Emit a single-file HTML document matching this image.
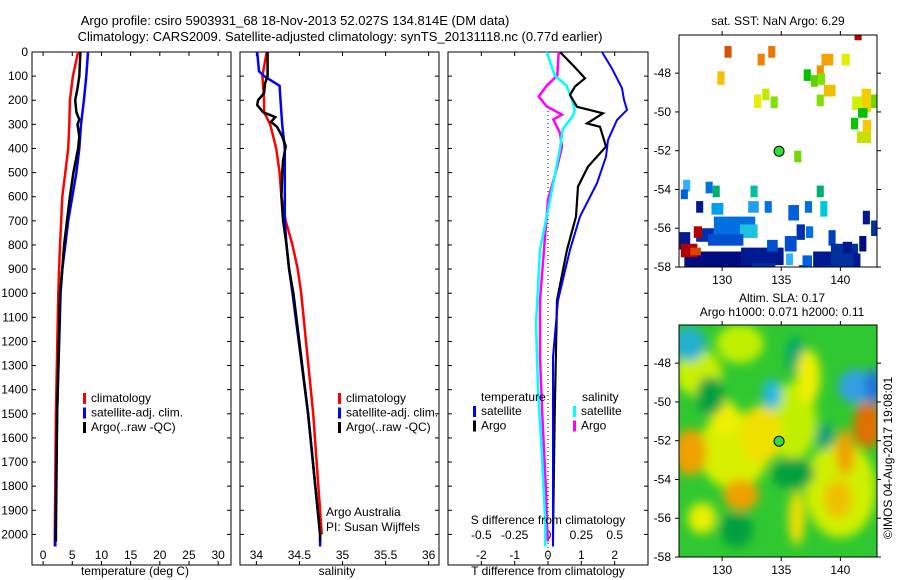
<!DOCTYPE html>
<html><head><meta charset="utf-8"><style>
body{margin:0;background:#fff}
svg{display:block;font-family:"Liberation Sans",sans-serif;font-size:12px}
</style></head><body>
<svg id="c" width="900" height="580" viewBox="0 0 900 580"></svg>
<script>
const depthTicks=[0,100,200,300,400,500,600,700,800,900,1000,1100,1200,1300,1400,1500,1600,1700,1800,1900,2000];
const tempTicks=[0,5,10,15,20,25,30];
const salTicks=[34,34.5,35,35.5,36];
const tdTicks=[-2,-1,0,1,2];
const sdTicks=[-0.5,-0.25,0,0.25,0.5];
const tempClim=[[0,6.0],[100,5.1],[200,4.6],[300,4.5],[400,4.3],[500,3.8],[600,3.3],[700,3.1],[800,2.9],[900,2.75],[1000,2.6],[1500,2.2],[2000,2.0],[2050,2.0]];
const tempSat=[[0,7.7],[100,7.4],[200,7.0],[300,6.5],[400,6.2],[500,5.7],[600,5.0],[700,4.3],[800,3.8],[900,3.3],[1000,3.0],[1500,2.4],[2000,2.1],[2050,2.1]];
const tempArgo=[[0,6.4],[100,6.2],[150,5.9],[200,5.5],[250,5.7],[280,6.2],[300,5.9],[350,6.2],[400,6.0],[500,5.2],[600,4.6],[700,4.1],[800,3.6],[900,3.3],[1000,2.9],[1500,2.4],[2000,2.2],[2030,2.2]];
const salClim=[[0,34.12],[100,34.07],[200,34.09],[250,34.09],[300,34.16],[400,34.23],[500,34.27],[600,34.29],[700,34.34],[800,34.42],[900,34.48],[1000,34.52],[1500,34.66],[2000,34.76]];
const salSat=[[0,34.01],[80,34.03],[100,34.09],[140,34.27],[200,34.28],[300,34.3],[400,34.33],[500,34.33],[600,34.33],[700,34.33],[800,34.35],[900,34.38],[1000,34.42],[1500,34.6],[2000,34.74],[2050,34.74]];
const salArgo=[[0,34.13],[100,34.13],[130,34.1],[170,34.09],[200,34.02],[220,34.01],[250,34.08],[270,34.22],[290,34.17],[310,34.24],[350,34.3],[390,34.34],[450,34.31],[500,34.3],[600,34.29],[700,34.31],[800,34.35],[900,34.38],[1000,34.43],[1500,34.6],[2000,34.74],[2030,34.74]];
const tdArgo=[[0,0.36],[55,0.75],[109,1.11],[143,0.81],[178,0.66],[227,0.87],[254,1.65],[296,1.17],[310,1.56],[392,1.74],[475,1.2],[558,0.9],[682,0.84],[820,0.57],[1030,0.27],[1500,0.2],[2000,0.15],[2030,0.15]];
const tdSat=[[0,1.62],[69,1.92],[150,2.22],[198,2.28],[240,2.37],[282,2.07],[365,1.8],[434,1.74],[544,1.47],[682,0.96],[820,0.66],[1030,0.3],[1264,0.15],[1540,0.15],[2050,0.15]];
const sdSat=[[0,-0.01],[97,0.05],[140,0.14],[198,0.18],[240,0.2],[262,0.19],[320,0.11],[400,0.09],[544,0.04],[682,-0.01],[820,-0.06],[1030,-0.08],[1126,-0.09],[1402,-0.075],[1678,-0.045],[1955,-0.02],[2050,-0.02]];
const sdArgo=[[0,0.08],[97,0.07],[140,-0.01],[184,-0.07],[226,-0.01],[260,0.105],[280,0.04],[336,0.09],[392,0.105],[475,0.07],[613,0],[751,-0.02],[1030,-0.06],[1264,-0.06],[1540,-0.04],[1816,-0.015],[1955,-0.008],[2030,0]];
const lonTicks=[130,135,140];
const latTicks=[-48,-50,-52,-54,-56,-58];
const sstCells=[[130.2,-46.6,0.6,0.6,'#d85000'],[133,-47,0.6,0.6,'#f08000'],[133.9,-46.6,0.6,0.6,'#e87800'],[141.2,-45.9,0.6,0.4,'#b00000'],
[129.6,-47.9,0.6,0.7,'#f8c000'],[138,-47.6,0.6,0.6,'#f09000'],[138.4,-47,1,0.6,'#f8a000'],[140.1,-47,0.7,0.6,'#e0f000'],
[136.9,-47.8,0.6,0.6,'#00c000'],[137.5,-48.1,0.6,0.6,'#60d000'],[138.1,-48.0,0.6,0.6,'#80e000'],[138.6,-48.6,1.0,0.6,'#f0c000'],[138,-49.1,0.6,0.6,'#80e000'],
[132.7,-49.1,0.6,0.7,'#e8f000'],[133.4,-48.8,0.6,0.6,'#c0e800'],[134.1,-49.2,0.6,0.6,'#80e000'],
[141,-49.2,0.8,0.7,'#d0f000'],[141.8,-48.8,0.8,1.2,'#f0d000'],[142.6,-49.1,0.5,0.7,'#70d800'],[141.5,-49.8,0.8,0.5,'#00c000'],
[140.9,-50.3,0.6,0.6,'#00c800'],[141.9,-50.4,0.7,0.6,'#f8c800'],[141.4,-51,1.2,0.6,'#c8e000'],[136.1,-52,0.6,0.6,'#70d800'],
[126.7,-53.5,0.6,0.6,'#30b0ff'],[126.5,-54,0.6,0.5,'#0060d8'],[128.6,-53.6,0.6,0.6,'#0070e0'],[129.2,-53.8,0.6,0.6,'#00b070'],[132.4,-53.8,0.6,0.6,'#00c0a0'],
[127.8,-54.6,0.6,0.6,'#001890'],[129.1,-54.7,1.0,0.6,'#00a0f0'],[132.2,-54.6,0.9,0.6,'#20a0f0'],[133.6,-54.6,0.6,0.6,'#0070e0'],[138,-53.8,0.6,0.6,'#00b070'],[138.3,-54.6,0.6,0.8,'#00c8d8'],
[129.3,-55.4,3.5,0.9,'#0070e0'],[131.5,-55.8,1.5,0.7,'#20c0e0'],[135.6,-54.8,0.9,0.8,'#0060e0'],[137,-54.6,0.6,0.6,'#0070e0'],[141.9,-55.1,0.6,0.7,'#001890'],[142.6,-55.6,0.6,0.8,'#0030a0'],
[126.4,-56.2,0.9,0.9,'#001890'],[127.8,-56.0,1.5,0.7,'#0030b0'],[127.6,-55.9,0.7,0.6,'#b00000'],[128.8,-56.3,3.0,0.6,'#0050d0'],[136.3,-55.8,0.7,0.8,'#0030b0'],[137.1,-55.9,0.6,0.6,'#0070e0'],[139,-56.1,0.6,0.8,'#0040c0'],
[126.8,-57.2,5.8,1.0,'#000c80'],[126.5,-56.8,1.4,0.7,'#b00000'],[127.3,-57.0,0.9,0.4,'#e04000'],[131.6,-57.0,3.6,0.9,'#001890'],[133.8,-56.6,0.9,0.6,'#0050d0'],[135.3,-56.4,1.0,0.8,'#0050d0'],[135.4,-57.3,0.6,0.6,'#30b0ff'],
[136.8,-57.4,0.8,0.8,'#0060e0'],[137.7,-57.2,1.7,1.0,'#001890'],[139.2,-56.8,2.3,1.4,'#0030a0'],[140.2,-56.7,0.8,0.6,'#001890'],[141.6,-56.4,0.6,0.8,'#000c80'],[141.1,-57.3,0.6,0.9,'#001890'],
[127.6,-57.9,2.2,0.7,'#000c80'],[130.5,-57.9,1.5,0.7,'#000c80'],[132.6,-57.8,1.9,0.7,'#0030a0'],[134.5,-58.0,1.8,0.7,'#001890'],[136.5,-57.9,0.7,0.6,'#0050d0'],[138.3,-57.9,2.2,0.7,'#0030a0'],[140.4,-58.1,0.8,0.6,'#000c80']];
const slaBlobs=[[127.2,-47,1.4,0.9,'#20b0d0'],[136.2,-47.6,0.8,1.0,'#00a870'],[134.2,-49.6,0.8,0.8,'#20b8e0'],[141.3,-49.2,1.5,0.9,'#30a0e0'],[142.8,-49.2,0.7,0.9,'#2070e0'],
[142.3,-51.2,1.2,1.2,'#e07000'],[127.3,-52.6,1.4,1.2,'#f0a000'],[133.3,-51.7,1.8,1.5,'#f0e000'],[131.6,-54.8,1.5,0.8,'#f0a000'],[140.4,-52.6,0.8,1.2,'#f0a000'],[139.8,-55.0,1.2,1.0,'#f0c000'],
[130.2,-50.8,1.2,0.9,'#f0f000'],[137.3,-48.7,1.0,1.4,'#f0f000'],[129,-49.7,1.2,1.0,'#00a040'],[131.2,-56.6,1.4,0.9,'#00a040'],[136,-53.7,1.8,0.8,'#00a040'],[128.3,-56.0,1.2,0.8,'#e8f000'],[136.3,-56.0,0.7,1.4,'#f0e000'],[138.7,-51.8,0.7,0.7,'#00a080']];
const svg=document.getElementById('c');
const NS='http://www.w3.org/2000/svg';
function el(tag,attrs,parent){const e=document.createElementNS(NS,tag);for(const k in attrs)e.setAttribute(k,attrs[k]);(parent||svg).appendChild(e);return e;}
function txt(x,y,s,anchor,extra){const t=el('text',Object.assign({x:x,y:y,'text-anchor':anchor||'start'},extra||{}));t.textContent=s;return t;}
const Y0=52,Ypx=0.2412;
function yD(d){return Y0+d*Ypx;}
const panels=[{x0:32,x1:231,vmin:-1.9,vmax:32.2},{x0:240,x1:439,vmin:33.81,vmax:36.12},{x0:448,x1:648,vmin:-3.0,vmax:3.0}];
function xf(p,v){return p.x0+(v-p.vmin)/(p.vmax-p.vmin)*(p.x1-p.x0);}
const P3S={x0:448,x1:648,vmin:-0.75,vmax:0.75};
// title
let t=txt(295,25,'Argo profile: csiro 5903931_68 18-Nov-2013 52.027S 134.814E (DM data)','middle',{'font-size':'13'});


t=txt(340,41,'Climatology: CARS2009. Satellite-adjusted climatology: synTS_20131118.nc (0.77d earlier)','middle',{'font-size':'13'});


const names=['temperature-panel','salinity-panel','difference-panel'];
panels.forEach((p,i)=>{
  const g=el('g',{});
  
  
  el('rect',{x:p.x0,y:Y0,width:p.x1-p.x0,height:565-Y0,fill:'none',stroke:'#000'},g);
  depthTicks.forEach(d=>{el('line',{x1:p.x0,x2:p.x0+4,y1:yD(d),y2:yD(d),stroke:'#000'},g);el('line',{x1:p.x1,x2:p.x1-4,y1:yD(d),y2:yD(d),stroke:'#000'},g);});
  p.g=g;
});
const yl=el('g',{});


depthTicks.forEach(d=>{const e=txt(28,yD(d)+4,String(d),'end');yl.appendChild(e);});
function xticks(p,ticks,fmt,ylab){ticks.forEach(v=>{const x=xf(p,v);el('line',{x1:x,x2:x,y1:565,y2:561,stroke:'#000'},p.g);el('line',{x1:x,x2:x,y1:Y0,y2:Y0+4,stroke:'#000'},p.g);const e=txt(x,ylab,fmt(v),'middle');p.g.appendChild(e);});}
xticks(panels[0],tempTicks,String,558+0);
xticks(panels[1],salTicks,String,558);
// move tick labels below
panels.forEach(p=>{p.g.querySelectorAll('text').forEach(e=>e.setAttribute('y',559));});
tdTicks.forEach(v=>{const p=panels[2];const x=xf(p,v);el('line',{x1:x,x2:x,y1:565,y2:561,stroke:'#000'},p.g);el('line',{x1:x,x2:x,y1:Y0,y2:Y0+4,stroke:'#000'},p.g);p.g.appendChild(txt(x,559,String(v),'middle'));});
sdTicks.forEach(v=>{const x=xf(P3S,v);panels[2].g.appendChild(txt(x,539,String(v),'middle'));});
txt(548,524,'S difference from climatology','middle');
t=txt(135,575,'temperature (deg C)','middle');


t=txt(337,575,'salinity','middle');


t=txt(548,575,'T difference from climatology','middle');


el('line',{x1:xf(panels[2],0),x2:xf(panels[2],0),y1:Y0+55,y2:565,stroke:'#000','stroke-dasharray':'1,3'},panels[2].g);
function line(p,data,color,w,name){const pts=data.map(d=>xf(p,d[1]).toFixed(1)+','+yD(d[0]).toFixed(1)).join(' ');const e=el('polyline',{points:pts,fill:'none',stroke:color,'stroke-width':w},panels[p===P3S?2:panels.indexOf(p)].g);

}
line(panels[0],tempClim,'#f00',2.5,'temp-climatology-line');
line(panels[0],tempSat,'#00f',2.5,'temp-satellite-line');
line(panels[0],tempArgo,'#000',2.5,'temp-argo-line');
line(panels[1],salClim,'#f00',2.5,'sal-climatology-line');
line(panels[1],salSat,'#00f',2.5,'sal-satellite-line');
line(panels[1],salArgo,'#000',2.5,'sal-argo-line');
line(P3S,sdArgo,'#f0f',2.5,'sdiff-argo-line');
line(P3S,sdSat,'#0ff',2.5,'sdiff-satellite-line');
line(panels[2],tdArgo,'#000',2.2,'tdiff-argo-line');
line(panels[2],tdSat,'#00f',2,'tdiff-satellite-line');
function legend(x,y,items,name){const g=el('g',{});items.forEach((it,i)=>{el('rect',{x:x,y:y+i*14.5-9,width:3,height:11,fill:it[1]},g);g.appendChild(txt(x+8,y+i*14.5,it[0]));});}
legend(83,402,[['climatology','#f00'],['satellite-adj. clim.','#00f'],['Argo(..raw -QC)','#000']],'temp-legend');
legend(338,402,[['climatology','#f00'],['satellite-adj. clim.','#00f'],['Argo(..raw -QC)','#000']],'sal-legend');
txt(481,401,'temperature');
legend(473,415,[['satellite','#00f'],['Argo','#000']],'tdiff-legend');
txt(582,401,'salinity');
legend(573,415,[['satellite','#0ff'],['Argo','#f0f']],'sdiff-legend');
txt(326,516,'Argo Australia');txt(326,531,'PI: Susan Wijffels');
// maps
const M={x0:679,x1:877,lon0:126.35,lon1:143.1,lat0:-46.03,lat1:-58.0};
function mx(l){return M.x0+(l-M.lon0)/(M.lon1-M.lon0)*(M.x1-M.x0);}
function map(top,bottom,name,title1,title2){
  const g=el('g',{});
  const my=v=>top+(v-M.lat0)/(M.lat1-M.lat0)*(bottom-top);
  const cp=name+'-clip';const defs=el('defs',{},g);const c=el('clipPath',{id:cp},defs);el('rect',{x:M.x0,y:top,width:M.x1-M.x0,height:bottom-top},c);
  return {g,my,cp,top,bottom,finish:()=>{
    el('rect',{x:M.x0,y:top,width:M.x1-M.x0,height:bottom-top,fill:'none',stroke:'#000'},g);
    lonTicks.forEach(l=>{el('line',{x1:mx(l),x2:mx(l),y1:bottom,y2:bottom+4,stroke:'#000'},g);el('line',{x1:mx(l),x2:mx(l),y1:top,y2:top-4,stroke:'#000'},g);g.appendChild(txt(mx(l),bottom+17,String(l),'middle'));});
    latTicks.forEach(l=>{el('line',{x1:M.x0,x2:M.x0-4,y1:my(l),y2:my(l),stroke:'#000'},g);el('line',{x1:M.x1,x2:M.x1+4,y1:my(l),y2:my(l),stroke:'#000'},g);g.appendChild(txt(M.x0-8,my(l)+4,String(l),'end'));});
    el('circle',{cx:mx(134.814),cy:my(-52.027),r:5,fill:'#30e030',stroke:'#000'},g);
  }};
}
const m1=map(35,267,'sst-map');
txt(778,25,'sat. SST: NaN Argo: 6.29','middle');
const c1=el('g',{'clip-path':'url(#sst-map-clip)'},m1.g);
sstCells.forEach(c=>{const r=el('rect',{x:mx(c[0]),y:m1.my(c[1]),width:c[2]*11.82,height:c[3]*19.38,fill:c[4]},c1);

});
m1.finish();
const m2=map(325,557,'sla-map');
txt(782,302,'Altim. SLA: 0.17','middle');txt(782,316,'Argo h1000: 0.071 h2000: 0.11','middle');
const defs2=el('defs',{},m2.g);const f=el('filter',{id:'blur',x:'-50%',y:'-50%',width:'200%',height:'200%'},defs2);el('feGaussianBlur',{stdDeviation:'5'},f);
const c2=el('g',{'clip-path':'url(#sla-map-clip)'},m2.g);
el('rect',{x:M.x0,y:325,width:M.x1-M.x0,height:232,fill:'#30c830'},c2);
const bg=el('g',{filter:'url(#blur)'},c2);
[[131,-52.5,3,2,'#d8f000'],[140,-54.5,3,2.5,'#d0f000'],[128,-48.5,2,1.2,'#c8f000'],[136,-51,2,2,'#c0f000'],[131.5,-47,2,1,'#c0f000']].concat(slaBlobs).forEach(b=>{const e=el('ellipse',{cx:mx(b[0]),cy:m2.my(b[1]),rx:b[2]*11.82,ry:b[3]*19.38,fill:b[4]},bg);

});
m2.finish();
t=txt(0,0,'©IMOS 04-Aug-2017 19:08:01','middle',{transform:'translate(892,458) rotate(-90)'});


</script>
</body></html>
